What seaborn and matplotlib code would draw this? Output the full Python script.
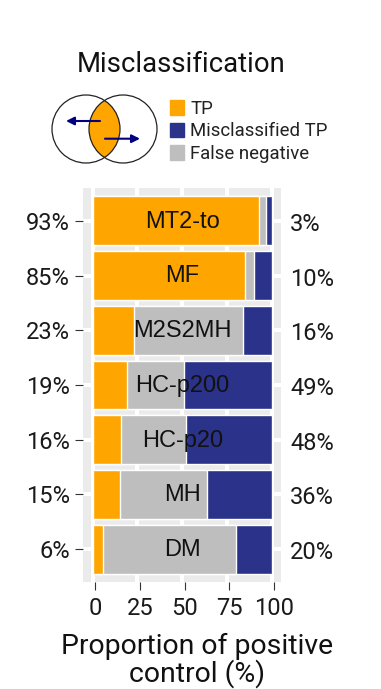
import matplotlib
matplotlib.use('Agg')
import matplotlib.pyplot as plt
import numpy as np
import pandas as pd
import seaborn as sns
from matplotlib.patches import Circle, Patch

# values
methods = ['MT2-to', 'MF', 'M2S2MH', 'HC-p200', 'HC-p20', 'MH', 'DM']
tp = [93, 85, 23, 19, 16, 15, 6]
false_neg = [4, 5, 61, 32, 36, 49, 74]
misclassified = [3, 10, 16, 49, 48, 36, 20]
x_labels = ['0', '25', '50', '75', '100']
grid_values = [0, 25, 50, 75, 100]

ORANGE = '#ffa500'
BLUE = '#2b3289'
GREY = '#bebebe'
PANEL = '#ebebeb'
FONT = 'Roboto'
W, H = 381, 689

sns.set_theme(style='white')
plt.rcParams['font.family'] = [FONT, 'DejaVu Sans']

df = pd.DataFrame({'method': methods, 'tp': tp, 'fn': false_neg, 'mis': misclassified})
df['tp_end'] = df['tp']
df['fn_end'] = df['tp'] + df['fn']
df['mis_end'] = df['fn_end'] + df['mis']

fig = plt.figure(figsize=(W / 100, H / 100), dpi=100)
fig.patch.set_facecolor('white')

# panel goes from 83-281 px across, 188-582 px down
ax = fig.add_axes([83.3 / W, 1 - 582 / H, (281 - 83.3) / W, (582 - 188) / H])
ax.set_facecolor(PANEL)

# stacked bars: longest first, shorter ones painted on top
sns.barplot(data=df, x='mis_end', y='method', color=BLUE, saturation=1, width=0.895, ax=ax, zorder=3)
sns.barplot(data=df, x='fn_end', y='method', color=GREY, saturation=1, width=0.895, ax=ax, zorder=3)
sns.barplot(data=df, x='tp_end', y='method', color=ORANGE, saturation=1, width=0.895, ax=ax, zorder=3)

ax.set_xlim(-5.2, 105.1)
ax.set_ylim(6.6, -0.6)
ax.set_xlabel('')
ax.set_ylabel('')
sns.despine(ax=ax, left=True, bottom=True)

# white grid sits on the data, tick marks are shifted a little in the original
ax.set_xticks(grid_values, minor=True)
ax.grid(True, which='minor', axis='x', color='white', lw=2.9, zorder=1)
ax.grid(True, which='major', axis='y', color='white', lw=2.9, zorder=1)
ax.set_axisbelow(True)
ax.set_xticks([v * 0.9966 + 1.45 for v in grid_values])
ax.set_xticklabels(x_labels, fontsize=17, color='#1a1a1a')
ax.set_yticks(range(len(methods)))
ax.set_yticklabels([f'{v}%' for v in tp], fontsize=17, color='#1a1a1a')
ax.tick_params(axis='x', which='major', bottom=True, length=5.8, width=0.8, color='#333333', pad=5)
ax.tick_params(axis='x', which='minor', bottom=False)
ax.tick_params(axis='y', which='major', left=True, length=6, width=0.8, color='#333333', pad=3.5)

for i, (name, mis) in enumerate(zip(methods, misclassified)):
    ax.text(50, i + 0.015, name, ha='center', va='center', fontsize=17, family='Liberation Sans', color='#111111', zorder=5)
    ax.annotate(f'{mis}%', xy=(1, i), xycoords=ax.get_yaxis_transform(), xytext=(6.5, -2.5),
                textcoords='offset points', ha='left', va='center', fontsize=17, color='#1a1a1a')

fig.text(197 / W, 1 - 646 / H, 'Proportion of positive', ha='center', va='center', fontsize=20.4, color='#111111')
fig.text(197 / W, 1 - 674 / H, 'control (%)', ha='center', va='center', fontsize=20.4, color='#111111')
fig.text(181.5 / W, 1 - 64 / H, 'Misclassification', ha='center', va='center', fontsize=19.8, color='#111111')

# overlay in pixel coordinates for the venn sketch
ov = fig.add_axes([0, 0, 1, 1], facecolor='none')
ov.set_xlim(0, W)
ov.set_ylim(H, 0)
ov.axis('off')

right_c = Circle((123, 129), 34, fc='none', ec='none')
ov.add_patch(right_c)
lens = Circle((86, 129), 34, fc=ORANGE, ec='none')
ov.add_patch(lens)
lens.set_clip_path(right_c)
ov.add_patch(Circle((86, 129), 34, fc='none', ec='#222222', lw=0.9))
ov.add_patch(Circle((123, 129), 34, fc='none', ec='#222222', lw=0.9))
arrow = dict(arrowstyle='-|>', color='#000080', lw=1.5, mutation_scale=12, shrinkA=0, shrinkB=0)
ov.annotate('', xy=(66, 121), xytext=(100, 121), arrowprops=arrow)
ov.annotate('', xy=(140, 138.7), xytext=(105, 138.7), arrowprops=arrow)

# legend
handles = [Patch(color=ORANGE, label='TP'), Patch(color=BLUE, label='Misclassified TP'), Patch(color=GREY, label='False negative')]
fig.legend(handles=handles, loc='upper left', bbox_to_anchor=(170 / W, 1 - 100 / H), frameon=False,
           fontsize=13.4, handlelength=0.76, handleheight=0.8, handletextpad=0.32, labelspacing=0.24,
           borderpad=0, borderaxespad=0, labelcolor='#222222')

fig.savefig('out.png', dpi=100)
